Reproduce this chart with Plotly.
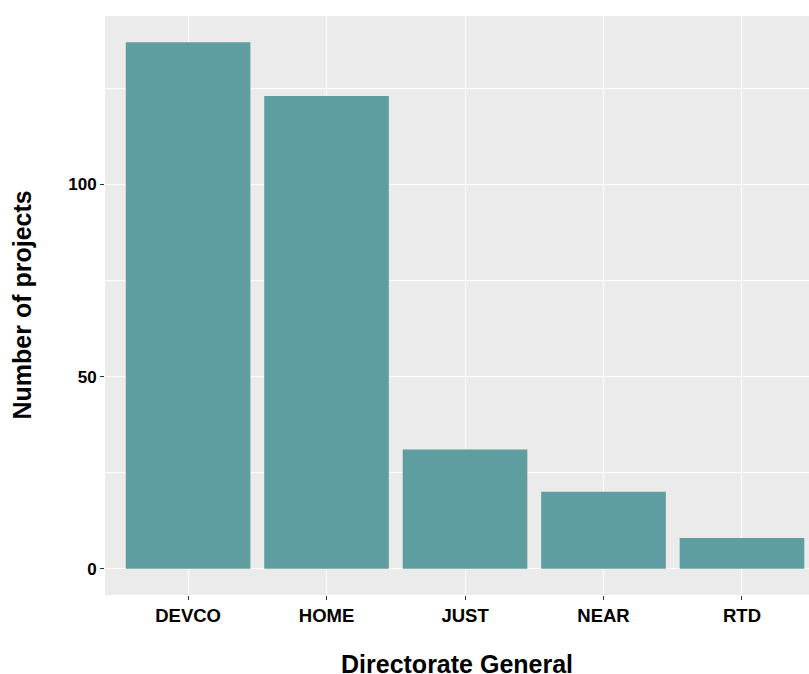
import plotly.graph_objects as go

categories = ["DEVCO", "HOME", "JUST", "NEAR", "RTD"]
projects = [137, 123, 31, 20, 8]

FONT = "Liberation Sans, Arial, sans-serif"

fig = go.Figure(go.Bar(
    x=categories, y=projects, width=0.9,
    marker=dict(color="#5F9EA0", line=dict(width=0)),
    hoverinfo="skip",
))

fig.update_layout(
    width=809, height=674,
    margin=dict(l=105, r=0, t=15.5, b=79),
    paper_bgcolor="white", plot_bgcolor="#EBEBEB",
    font=dict(family=FONT, color="black"),
    showlegend=False,
    bargap=0.1,
    annotations=[
        dict(text="<b>Directorate General</b>", xref="paper", yref="paper",
             x=0.5, y=0, xanchor="center", yanchor="middle", yshift=-69,
             showarrow=False, font=dict(size=25, family=FONT, color="black")),
        dict(text="<b>Number of projects</b>", xref="paper", yref="paper",
             x=0, y=0.5, xanchor="center", yanchor="middle", xshift=-84,
             textangle=-90,
             showarrow=False, font=dict(size=25, family=FONT, color="black")),
    ],
)
fig.update_xaxes(
    range=[-0.6, 4.484], showgrid=True, gridcolor="white", gridwidth=1.3,
    ticks="outside", ticklen=4, tickcolor="#333333", tickwidth=1.3,
    tickfont=dict(size=18.5, family=FONT, weight="bold", color="black"),
    zeroline=False, showline=False,
)
fig.update_yaxes(
    range=[-6.85, 143.85], dtick=50, tick0=0, showgrid=True, gridcolor="white", gridwidth=1.3,
    minor=dict(dtick=25, tick0=0, showgrid=True, gridcolor="white", gridwidth=0.6),
    ticks="outside", ticklen=4, tickcolor="#333333", tickwidth=1.3,
    tickfont=dict(size=17, family=FONT, weight="bold", color="black"),
    zeroline=False, showline=False,
)

fig.write_html(
    "out.html",
    config={"displayModeBar": False},
    post_script="document.body.style.margin='0';document.body.style.overflow='hidden';",
)
